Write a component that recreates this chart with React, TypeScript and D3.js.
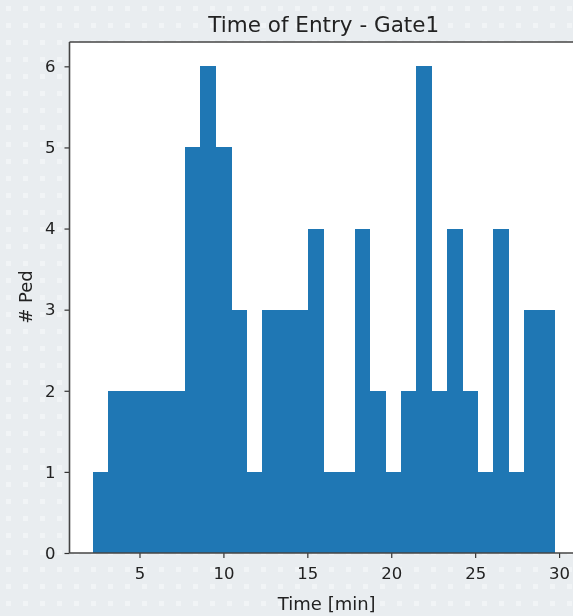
import React, { useEffect, useRef } from "react";
import * as d3 from "d3";

const binCounts = [1, 2, 2, 2, 2, 2, 5, 6, 5, 3, 1, 3, 3, 3, 4, 1, 1, 4, 2, 1, 2, 6, 2, 4, 2, 1, 4, 1, 3, 3];
const dataMin = 2.207;
const dataMax = 29.75;
const xTicks = [5, 10, 15, 20, 25, 30];
const yTicks = [0, 1, 2, 3, 4, 5, 6];
const title = "Time of Entry - Gate1";
const xLabel = "Time [min]";
const yLabel = "# Ped";

const W = 573;
const H = 616;
const left = 69.5;
const right = 578;
const top = 42;
const bottom = 553;

export default function App() {
  const ref = useRef<SVGSVGElement>(null);
  useEffect(() => {
    document.body.style.margin = "0";
    const svg = d3.select(ref.current);
    svg.selectAll("*").remove();
    const defs = svg.append("defs");
    const pat = defs.append("pattern").attr("id", "dots").attr("width", 17).attr("height", 17).attr("patternUnits", "userSpaceOnUse");
    pat.append("rect").attr("width", 17).attr("height", 17).attr("fill", "#e9edf0");
    pat.append("rect").attr("x", 6).attr("y", 6).attr("width", 5).attr("height", 5).attr("fill", "#f1f4f6");
    svg.append("rect").attr("width", W).attr("height", H).attr("fill", "url(#dots)");

    const span = dataMax - dataMin;
    const x = d3.scaleLinear().domain([dataMin - 0.05 * span, dataMax + 0.05 * span]).range([left, right]);
    const y = d3.scaleLinear().domain([0, 6.3]).range([bottom, top]);

    svg.append("rect").attr("x", left).attr("y", top).attr("width", right - left).attr("height", bottom - top).attr("fill", "#ffffff");

    const bw = span / binCounts.length;
    svg.append("g").attr("shape-rendering", "crispEdges").selectAll("rect").data(binCounts).join("rect")
      .attr("x", (_, i) => x(dataMin + i * bw))
      .attr("width", (_, i) => x(dataMin + (i + 1) * bw) - x(dataMin + i * bw) + 0.5)
      .attr("y", (d) => y(d))
      .attr("height", (d) => y(0) - y(d))
      .attr("fill", "#1f77b4");

    const font = "DejaVu Sans, sans-serif";
    const xAxis = svg.append("g").attr("transform", `translate(0,${bottom})`)
      .call(d3.axisBottom(x).tickValues(xTicks).tickSize(5).tickPadding(9).tickFormat(d3.format("d")));
    const yAxis = svg.append("g").attr("transform", `translate(${left},0)`)
      .call(d3.axisLeft(y).tickValues(yTicks).tickSize(5).tickPadding(9).tickFormat(d3.format("d")));
    [xAxis, yAxis].forEach((a) => {
      a.select(".domain").remove();
      a.selectAll("line").attr("stroke", "#333").attr("stroke-width", 1.2);
      a.selectAll("text").attr("font-family", font).attr("font-size", 16.5).attr("fill", "#222");
    });

    const sp = svg.append("g").attr("stroke", "#444").attr("stroke-width", 1.6).attr("fill", "none");
    sp.append("line").attr("x1", left).attr("x2", left).attr("y1", top).attr("y2", bottom);
    sp.append("line").attr("x1", left).attr("x2", right).attr("y1", bottom).attr("y2", bottom);
    sp.append("line").attr("x1", left).attr("x2", right).attr("y1", top).attr("y2", top);
    sp.append("line").attr("x1", right).attr("x2", right).attr("y1", top).attr("y2", bottom);

    svg.append("text").attr("x", (left + right) / 2).attr("y", 32).attr("text-anchor", "middle")
      .attr("font-family", font).attr("font-size", 21.5).attr("fill", "#222").text(title);
    svg.append("text").attr("x", (left + right) / 2 + 3).attr("y", 610).attr("text-anchor", "middle")
      .attr("font-family", font).attr("font-size", 18).attr("fill", "#222").text(xLabel);
    svg.append("text").attr("transform", `translate(32,297) rotate(-90)`).attr("text-anchor", "middle")
      .attr("font-family", font).attr("font-size", 18).attr("fill", "#222").text(yLabel);
  }, []);
  return <svg ref={ref} width={W} height={H} style={{ position: "fixed", left: 0, top: 0, display: "block" }} />;
}
